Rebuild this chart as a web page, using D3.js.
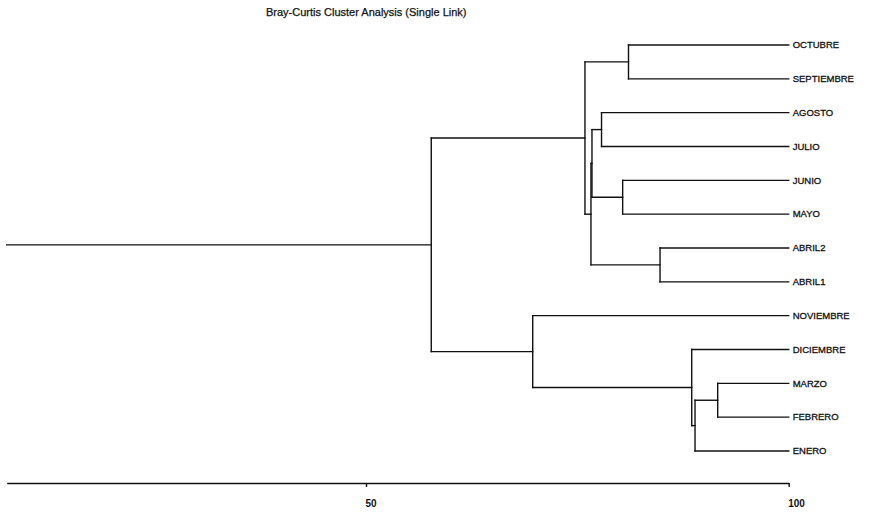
<!DOCTYPE html>
<html>
<head>
<meta charset="utf-8">
<script src="https://cdn.jsdelivr.net/npm/d3@7"></script>
<style>
  body { margin: 0; background: #fff; }
  svg { font-family: "Liberation Sans", Arial, sans-serif; }
</style>
</head>
<body>
<div id="chart"></div>
<script>
var width = 880,
    height = 512;

// leaves, top to bottom
var leaves = ["OCTUBRE", "SEPTIEMBRE", "AGOSTO", "JULIO", "JUNIO", "MAYO",
              "ABRIL2", "ABRIL1", "NOVIEMBRE", "DICIEMBRE", "MARZO", "FEBRERO", "ENERO"];

// merge steps: ids 0..12 are leaves, each merge gets id 13, 14, ...
var mergeA     = [0,    2,    4,    6,    14,   17,   13,   10,   20,   9,    8,    19];
var mergeB     = [1,    3,    5,    7,    15,   16,   18,   11,   12,   21,   22,   23];
var mergeLevel = [81.05, 77.86, 80.36, 84.78, 76.73, 76.61, 75.90, 91.60, 88.92, 88.53, 69.72, 57.72];

var axisMin = 7.5;
var tickVals = [50, 100];
var title = "Bray-Curtis Cluster Analysis (Single Link)";

var x = d3.scaleLinear()
    .domain([50, 100])
    .range([366, 788.7]);

var y = d3.scalePoint()
    .domain(leaves)
    .range([45, 451]);

var svg = d3.select("#chart").append("svg")
    .attr("width", width)
    .attr("height", height);

svg.append("text")
    .attr("x", 266)
    .attr("y", 16)
    .attr("font-size", "11px")
    .attr("fill", "#111")
    .attr("stroke", "#111")
    .attr("stroke-width", 0.25)
    .text(title);

// position of every node (leaf or cluster)
var nodeY = leaves.map(function(d) { return y(d); });
var nodeLevel = leaves.map(function() { return 100; });
var segs = [];

mergeA.forEach(function(a, i) {
  var b = mergeB[i],
      lv = mergeLevel[i];
  var xm = x(lv);
  segs.push([xm, nodeY[a], xm, nodeY[b]]);
  segs.push([xm, nodeY[a], x(nodeLevel[a]), nodeY[a]]);
  segs.push([xm, nodeY[b], x(nodeLevel[b]), nodeY[b]]);
  nodeY.push((nodeY[a] + nodeY[b]) / 2);
  nodeLevel.push(lv);
});

// stub from the root to the left edge
var root = nodeY.length - 1;
segs.push([x(axisMin), nodeY[root], x(nodeLevel[root]), nodeY[root]]);

svg.append("g")
    .attr("class", "tree")
  .selectAll("line")
  .data(segs)
  .enter().append("line")
    .attr("x1", function(d) { return d[0]; })
    .attr("y1", function(d) { return d[1]; })
    .attr("x2", function(d) { return d[2]; })
    .attr("y2", function(d) { return d[3]; })
    .attr("stroke", "#111")
    .attr("stroke-width", 1.4)
    .attr("stroke-linecap", "square");

svg.append("g")
    .attr("class", "labels")
  .selectAll("text")
  .data(leaves)
  .enter().append("text")
    .attr("x", x(100) + 4)
    .attr("y", function(d) { return y(d); })
    .attr("dy", "0.35em")
    .attr("font-size", "9.5px")
    .attr("fill", "#111")
    .attr("stroke", "#111")
    .attr("stroke-width", 0.3)
    .text(function(d) { return d; });

var axisScale = d3.scaleLinear()
    .domain([axisMin, 100])
    .range([x(axisMin), x(100)]);

var ax = svg.append("g")
    .attr("transform", "translate(0,483)")
    .call(d3.axisBottom(axisScale)
        .tickValues(tickVals)
        .tickSize(4)
        .tickSizeOuter(0)
        .tickPadding(13));

ax.select(".domain").attr("stroke", "#111").attr("stroke-width", 1.4);
ax.selectAll(".tick line").attr("stroke", "#111").attr("stroke-width", 1.4);
ax.selectAll(".tick text")
    .attr("text-anchor", "start")
    .attr("x", -1)
    .attr("font-size", "10px")
    .attr("font-weight", "bold")
    .attr("fill", "#111")
    .attr("font-family", "'Liberation Sans', Arial, sans-serif");
</script>
</body>
</html>
